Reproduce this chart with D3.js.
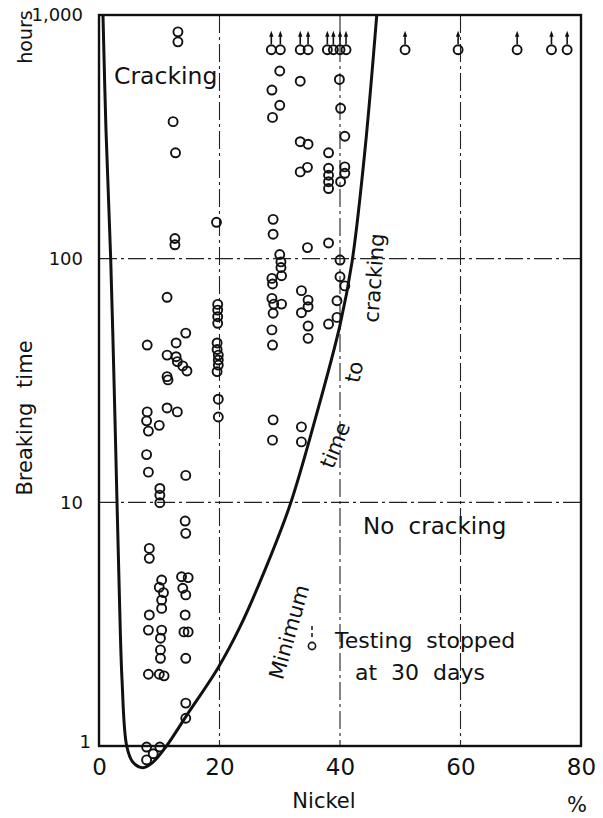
<!DOCTYPE html>
<html>
<head>
<meta charset="utf-8">
<script src="https://cdn.jsdelivr.net/npm/d3@7"></script>
<style>
  body { margin: 0; background: #fff; }
  svg { display: block; }
  text { font-family: "DejaVu Sans", sans-serif; fill: #111; }
</style>
</head>
<body>
<svg id="chart" width="603" height="818"></svg>
<script>
// Axis ticks
const nickelTicks = [0, 20, 40, 60, 80];
const hourTicks = [1, 10, 100, 1000];
const nickelGrid = [20, 40, 60];
const hourGrid = [10, 100];

// Specimens that cracked: [nickel %, breaking time in hours]
const cracked = [
  // ~8 % Ni
  [8.0, 44.2], [8.0, 23.5], [7.9, 21.6], [8.2, 19.6], [7.9, 15.7], [8.2, 13.3],
  [8.35, 6.47], [8.35, 5.89], [8.35, 3.45], [8.2, 2.99], [8.2, 1.97],
  [7.9, 0.99], [10.1, 0.99], [7.9, 0.877], [9.0, 0.93],
  // ~10 % Ni
  [10.0, 20.7], [10.1, 11.4], [10.1, 10.7], [10.1, 9.96], [10.4, 4.80], [10.0, 4.48],
  [10.7, 4.26], [10.4, 3.97], [10.4, 3.67], [10.4, 2.99], [10.2, 2.77], [10.2, 2.48],
  [10.2, 2.29], [10.0, 1.97], [10.8, 1.94],
  // ~11.5 % Ni
  [11.3, 69.4], [11.3, 40.2], [11.3, 32.8], [11.45, 31.8], [11.3, 24.4],
  // ~13 % Ni
  [13.1, 853], [13.1, 776], [12.3, 365], [12.7, 272], [12.6, 121], [12.6, 114],
  [12.8, 45.1], [12.8, 39.6], [13.0, 37.8], [13.0, 23.5],
  // ~14.5 % Ni
  [14.4, 49.5], [13.9, 36.3], [14.6, 34.6], [14.4, 12.9], [14.3, 8.38], [14.4, 7.46],
  [13.7, 4.95], [14.8, 4.91], [13.9, 4.44], [14.4, 4.17], [14.3, 3.45], [14.1, 2.94],
  [14.8, 2.94], [14.4, 2.29], [14.4, 1.50], [14.4, 1.30],
  // ~20 % Ni
  [19.5, 141], [19.7, 64.9], [19.7, 61.5], [19.7, 57.8], [19.7, 54.3], [19.6, 45.1],
  [19.6, 42.4], [19.8, 40.2], [19.8, 38.4], [19.8, 36.6], [19.6, 34.4], [19.8, 26.5],
  [19.8, 22.4],
  // ~29-30 % Ni
  [30.0, 589], [28.7, 492], [30.0, 426], [28.8, 380], [28.9, 145], [28.9, 126],
  [30.0, 104], [30.2, 97], [30.2, 92], [30.3, 85.1], [28.7, 83], [28.8, 78.7],
  [28.7, 68.7], [29.0, 65.1], [30.3, 65.1], [28.9, 59.7], [28.7, 51], [28.8, 44.2],
  [28.9, 21.8], [28.8, 18.0],
  // ~34 % Ni
  [33.4, 535], [33.4, 302], [34.7, 295], [33.4, 227], [34.6, 237], [34.6, 111],
  [33.6, 73.9], [34.7, 67.6], [33.6, 60], [34.7, 63.5], [34.7, 52.9], [34.7, 47.1],
  [33.6, 20.4], [33.6, 17.7],
  // ~38-41 % Ni
  [39.9, 544], [40.1, 414], [40.8, 318], [38.1, 272], [38.1, 235], [38.1, 220],
  [38.1, 207], [38.1, 194], [40.8, 238], [40.8, 224], [40.1, 207], [38.1, 116],
  [40.0, 98.7], [40.0, 84.3], [40.8, 77.3], [39.5, 67.2], [39.5, 57.4], [38.1, 53.9]
];

// Specimens still unbroken when testing stopped at 30 days
const stoppedNickel = [28.6, 30.1, 33.4, 34.7, 37.9, 38.9, 40.0, 41.0, 50.8, 59.6, 69.4, 75.1, 77.7];
const stopHours = 720;

// Boundary curve: minimum time to cracking
const minCurve = [
  [0.66, 1000], [1.16, 337], [1.94, 100], [2.49, 31.7], [2.99, 10], [3.40, 3.97],
  [3.82, 1.87], [4.6, 1.0], [5.6, 0.86], [7.3, 0.815], [9.0, 0.86], [11.2, 1.0],
  [14.5, 1.33], [19.75, 2.09], [23.4, 3.08], [27.55, 5.28], [31.7, 9.75],
  [35.85, 21.8], [40.0, 53.4], [42.0, 97], [44.15, 280], [46.1, 1000]
];

const svg = d3.select("#chart");
const x = d3.scaleLinear().domain([0, 80]).range([99, 581]);
const y = d3.scaleLog().domain([1, 1000]).range([746, 15]);

// Dash-dot grid lines
const grid = svg.append("g").attr("stroke", "#222").attr("stroke-width", 1.1)
  .attr("stroke-dasharray", "18,4,3,4").attr("fill", "none");
grid.selectAll("line.v").data(nickelGrid).join("line").attr("class", "v")
  .attr("x1", d => x(d)).attr("x2", d => x(d)).attr("y1", y(1000)).attr("y2", y(1));
grid.selectAll("line.h").data(hourGrid).join("line").attr("class", "h")
  .attr("x1", x(0)).attr("x2", x(80)).attr("y1", d => y(d)).attr("y2", d => y(d));

// Frame
svg.append("rect").attr("x", x(0)).attr("y", y(1000))
  .attr("width", x(80) - x(0)).attr("height", y(1) - y(1000))
  .attr("fill", "none").attr("stroke", "#111").attr("stroke-width", 2.4);

// Axes
const xAxis = svg.append("g").attr("transform", `translate(0,${y(1)})`)
  .call(d3.axisBottom(x).tickValues(nickelTicks).tickSize(0).tickPadding(13));
xAxis.select(".domain").remove();
xAxis.selectAll("text").style("font-size", "23px").attr("font-family", "DejaVu Sans");

const yAxis = svg.append("g").attr("transform", `translate(${x(0)},0)`)
  .call(d3.axisLeft(y).tickValues(hourTicks).tickFormat(d3.format(",")).tickSize(0).tickPadding(16));
yAxis.select(".domain").remove();
yAxis.selectAll("text").style("font-size", "18px").attr("font-family", "DejaVu Sans");
yAxis.selectAll(".tick").filter(d => d === 1).select("text").attr("x", -8).attr("dy", "0.1em");

// Boundary curve
const line = d3.line().x(d => x(d[0])).y(d => y(d[1])).curve(d3.curveCatmullRom.alpha(0.5));
svg.append("path").datum(minCurve).attr("d", line)
  .attr("fill", "none").attr("stroke", "#111").attr("stroke-width", 3);

// Data circles
const r = 4.5;
svg.append("g").selectAll("circle").data(cracked).join("circle")
  .attr("cx", d => x(d[0])).attr("cy", d => y(d[1])).attr("r", r)
  .attr("fill", "none").attr("stroke", "#111").attr("stroke-width", 1.9);

// Unbroken specimens: circle with an upward arrow
const st = svg.append("g").selectAll("g").data(stoppedNickel).join("g")
  .attr("transform", d => `translate(${x(d)},${y(stopHours)})`);
st.append("circle").attr("r", r).attr("fill", "none").attr("stroke", "#111").attr("stroke-width", 1.9);
st.append("line").attr("x1", 0).attr("x2", 0).attr("y1", -r - 1).attr("y2", -14)
  .attr("stroke", "#111").attr("stroke-width", 1.6);
st.append("path").attr("d", "M-2.2,-13 L2.2,-13 L0,-19 Z").attr("fill", "#111");

// Region labels
svg.append("text").attr("x", 114).attr("y", 84).style("font-size", "23.5px").text("Cracking");
svg.append("text").attr("x", 363).attr("y", 534).style("font-size", "23px")
  .style("word-spacing", "7px").text("No cracking");

// Curve annotation
const ann = [
  { t: "Minimum", cx: 289, cy: 632, a: -74 },
  { t: "time", cx: 335, cy: 445, a: -68 },
  { t: "to", cx: 354, cy: 372, a: -78 },
  { t: "cracking", cx: 374, cy: 278, a: -86 }
];
svg.append("g").selectAll("text").data(ann).join("text")
  .attr("transform", d => `translate(${d.cx},${d.cy}) rotate(${d.a})`)
  .attr("text-anchor", "middle").attr("dy", "0.35em").style("font-size", "21px")
  .text(d => d.t);

// Legend
const lg = svg.append("g").attr("transform", "translate(312,646)");
lg.append("circle").attr("r", 3.6).attr("fill", "none").attr("stroke", "#111").attr("stroke-width", 1.6);
lg.append("line").attr("x1", 0).attr("x2", 0).attr("y1", -9).attr("y2", -21)
  .attr("stroke", "#111").attr("stroke-width", 1.5).attr("stroke-dasharray", "4,3");
svg.append("text").attr("x", 335).attr("y", 648).style("font-size", "22px")
  .style("word-spacing", "7px").text("Testing stopped");
svg.append("text").attr("x", 355).attr("y", 680).style("font-size", "22px")
  .style("word-spacing", "7px").text("at 30 days");

// Axis titles
svg.append("text").attr("transform", "translate(32,418) rotate(-90)")
  .attr("text-anchor", "middle").style("font-size", "21px").style("word-spacing", "8px")
  .text("Breaking time");
svg.append("text").attr("transform", "translate(32,37) rotate(-90)")
  .attr("text-anchor", "middle").style("font-size", "19px").text("hours");
svg.append("text").attr("x", 324).attr("y", 808).attr("text-anchor", "middle")
  .style("font-size", "21px").text("Nickel");
svg.append("text").attr("x", 577).attr("y", 812).attr("text-anchor", "middle")
  .style("font-size", "21px").text("%");
</script>
</body>
</html>
